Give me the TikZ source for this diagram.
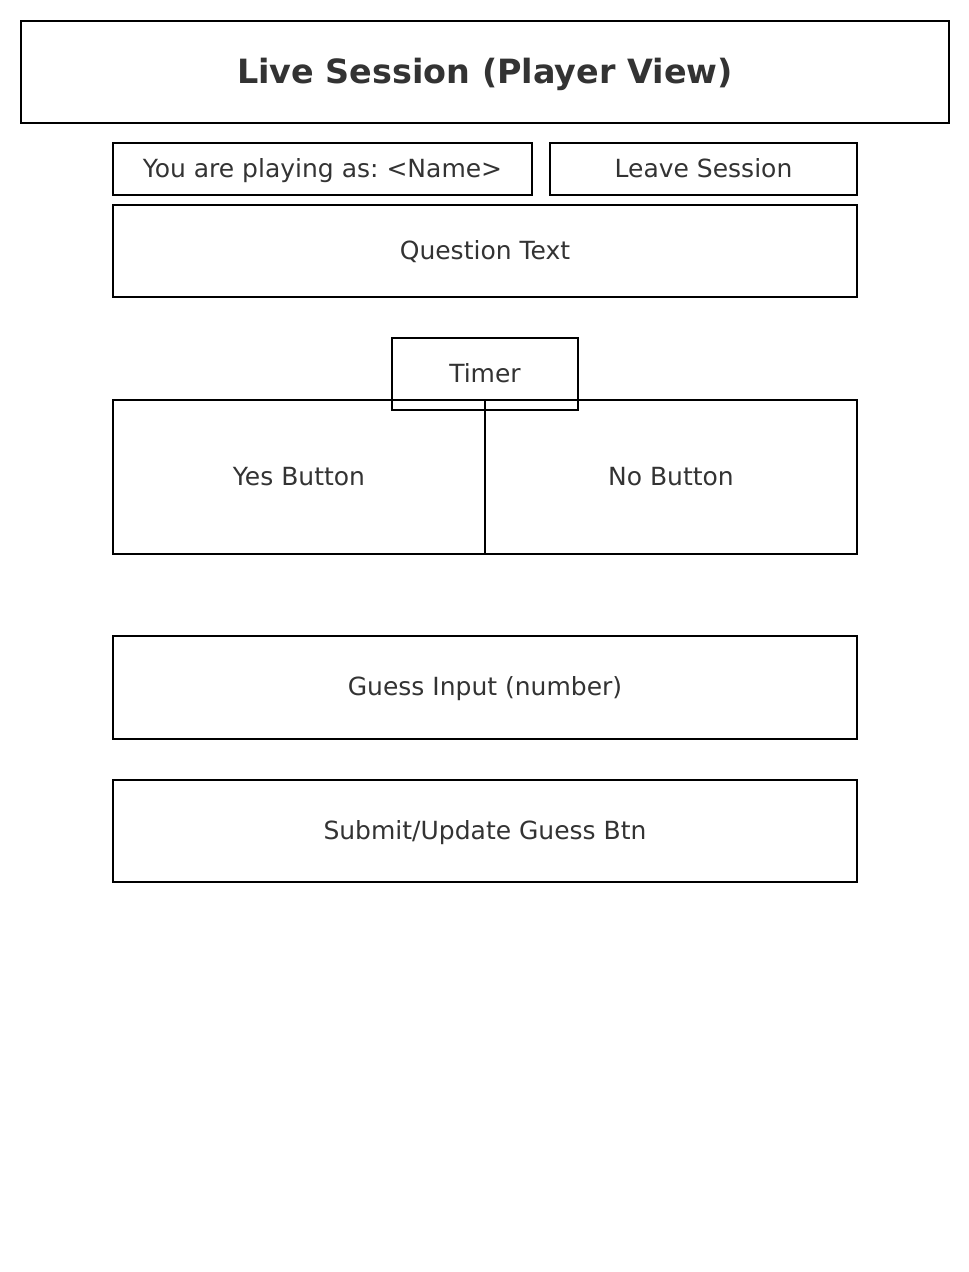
\documentclass[tikz,border=0pt]{standalone}
\usepackage{fontspec}
\setmainfont{DejaVu Sans}
\usetikzlibrary{positioning}
\definecolor{txtgray}{RGB}{51,51,51}
\frenchspacing

\begin{document}
\begin{tikzpicture}[x=1pt, y=-1pt,
    uibox/.style={draw, rectangle, line width=2.6pt, inner sep=0pt, outer sep=0pt, text=txtgray, text height=18.75pt, text depth=2pt, font=\fontsize{25}{30}\selectfont},
    wide/.style={uibox, minimum width=744pt}]
        \useasboundingbox (0,0) rectangle (969,1272);

        % Cabecera
        \node[uibox, minimum width=928pt, minimum height=102pt, text height=25pt, text depth=3pt, font=\fontsize{33.4}{40}\selectfont\bfseries] (title) at (485,72) {Live Session (Player View)};

        % Jugador y salida
        \node[uibox, minimum width=419pt, minimum height=52pt] (player) at (322.5,169) {You are playing as: <Name>};
        \node[uibox, minimum width=307pt, minimum height=52pt, right=18pt of player] (leave) {Leave Session};

        % Pregunta
        \node[wide, minimum height=92pt] (question) at (485,251) {Question Text};

        % Temporizador y respuestas
        \node[uibox, minimum width=186pt, minimum height=72pt] (timer) at (485,374) {Timer};
        \node[uibox, minimum width=372pt, minimum height=154pt] (yes) at (299,477) {Yes Button};
        \node[uibox, minimum width=372pt, minimum height=154pt, right=0pt of yes] (no) {No Button};

        % Estimación
        \node[wide, minimum height=103pt] (guess) at (485,687.5) {Guess Input (number)};
        \node[wide, minimum height=102pt] (submit) at (485,831) {Submit/Update Guess Btn};
    \end{tikzpicture}
\end{document}
